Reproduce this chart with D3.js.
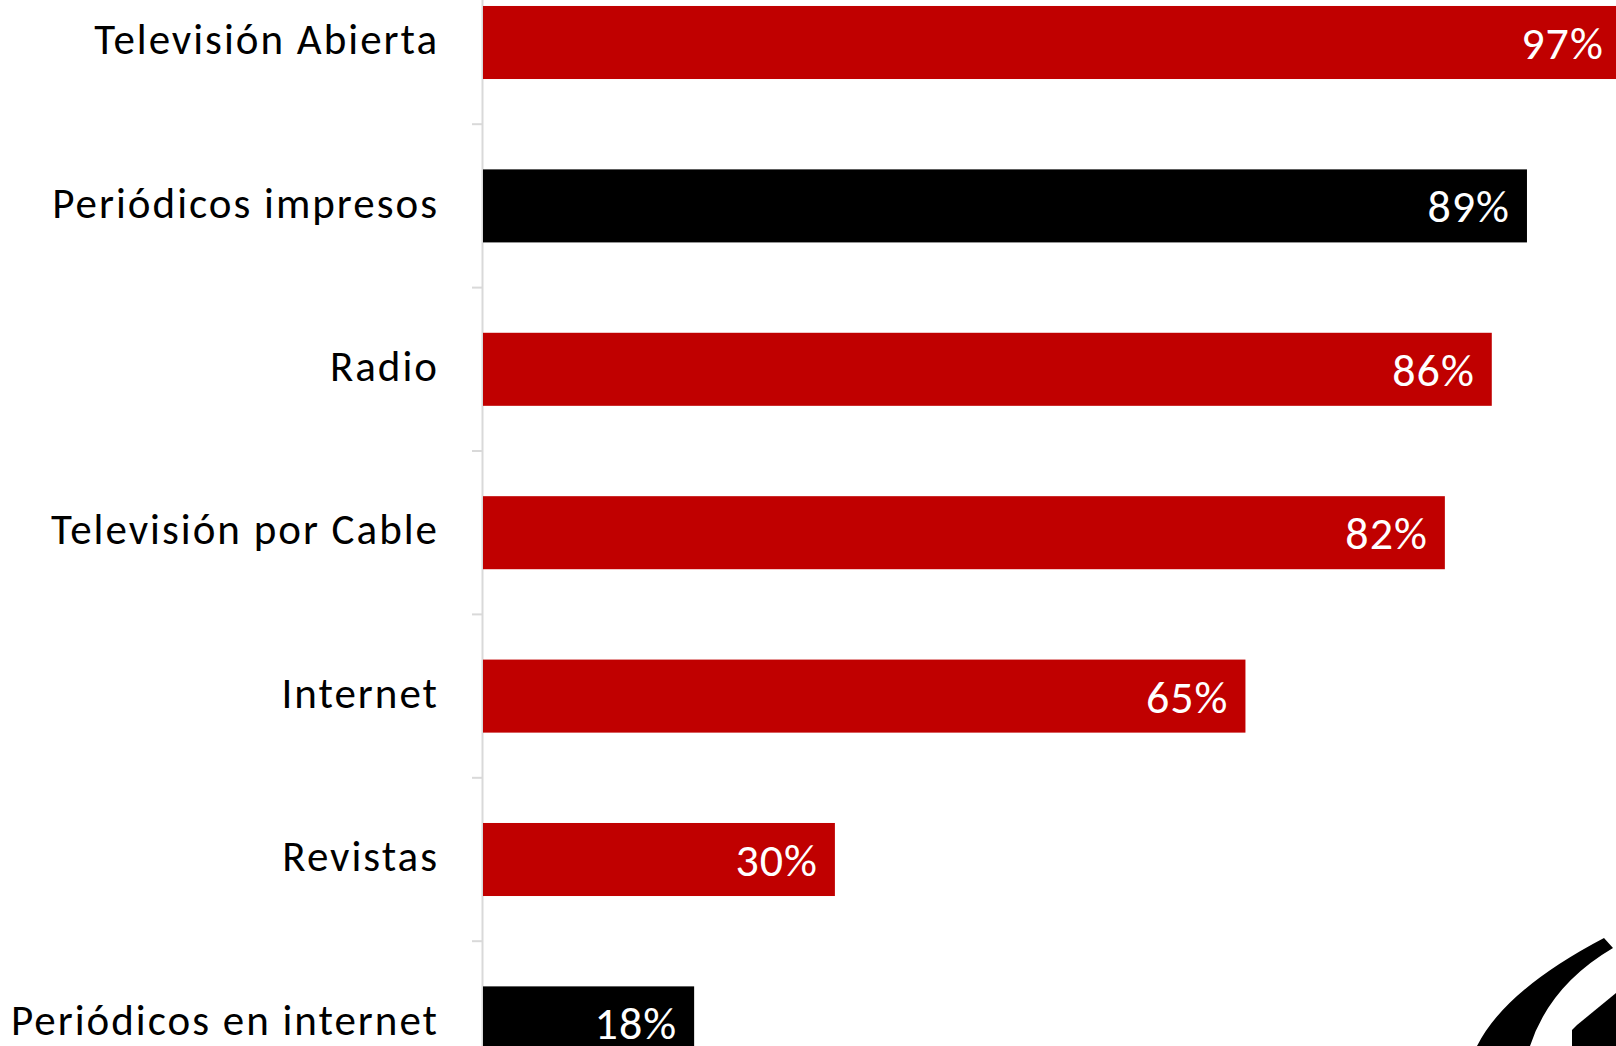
<!DOCTYPE html>
<html>
<head>
<meta charset="utf-8">
<script src="https://cdn.jsdelivr.net/npm/d3@7"></script>
<style>
  html, body { margin: 0; padding: 0; background: #ffffff; overflow: hidden; }
  svg { display: block; }
</style>
</head>
<body>
<svg id="chart" width="1616" height="1046"></svg>
<script>
// Media reach by channel (percent)
const categories = [
  "Televisión Abierta",
  "Periódicos impresos",
  "Radio",
  "Televisión por Cable",
  "Internet",
  "Revistas",
  "Periódicos en internet"
];
const values = [97, 89, 86, 82, 65, 30, 18];
const barColors = ["#C00000", "#000000", "#C00000", "#C00000", "#C00000", "#C00000", "#000000"];

const W = 1616, H = 1046;
const FONT = "Carlito, Calibri, Lato, 'Open Sans', sans-serif";

const svg = d3.select("#chart");

const x = d3.scaleLinear().domain([0, 100]).range([483, 1656]);
const y = d3.scaleBand()
  .domain(categories)
  .range([-39.2, 1104.6])
  .paddingInner(0.553)
  .paddingOuter(0.2765);

const rows = categories.map((c, i) => ({ cat: c, value: values[i], color: barColors[i] }));

// Category axis (labels + light gray spine)
const axis = d3.axisLeft(y).tickSize(0).tickSizeOuter(0).tickPadding(43);
const gAxis = svg.append("g")
  .attr("transform", "translate(482,0)")
  .call(axis);
gAxis.select(".domain").attr("stroke", "#d9d9d9").attr("stroke-width", 2);
gAxis.selectAll(".tick text")
  .attr("fill", "#000")
  .attr("font-family", FONT)
  .attr("font-size", 43)
  .attr("letter-spacing", "2px")
  .attr("dy", "0.27em");

// Tick marks between category bands
const gap = y.step() - y.bandwidth();
svg.append("g").selectAll("line")
  .data(categories)
  .join("line")
  .attr("x1", 472).attr("x2", 482)
  .attr("y1", d => y(d) + y.bandwidth() + gap / 2)
  .attr("y2", d => y(d) + y.bandwidth() + gap / 2)
  .attr("stroke", "#d9d9d9")
  .attr("stroke-width", 2);

// Bars
svg.append("g").selectAll("rect")
  .data(rows)
  .join("rect")
  .attr("x", x(0))
  .attr("y", d => y(d.cat))
  .attr("width", d => x(d.value) - x(0))
  .attr("height", y.bandwidth())
  .attr("fill", d => d.color);

// Value labels inside bar ends
svg.append("g").selectAll("text")
  .data(rows)
  .join("text")
  .attr("x", d => x(d.value) - 17)
  .attr("y", d => y(d.cat) + y.bandwidth() / 2)
  .attr("dy", "0.36em")
  .attr("text-anchor", "end")
  .attr("fill", "#ffffff")
  .attr("font-family", FONT)
  .attr("font-size", 46)
  .attr("letter-spacing", "1px")
  .text(d => d.value + "%");

// Corner emblem fragment (bottom right)
const emblem = svg.append("g").attr("fill", "#000");
emblem.append("path")
  .attr("d", "M1477,1046 Q1505,990 1604,938 L1613,948 Q1550,985 1530,1046 Z");
emblem.append("path")
  .attr("d", "M1572,1046 L1572,1030 L1577,1025 L1616,993 L1616,1046 Z");
</script>
</body>
</html>
